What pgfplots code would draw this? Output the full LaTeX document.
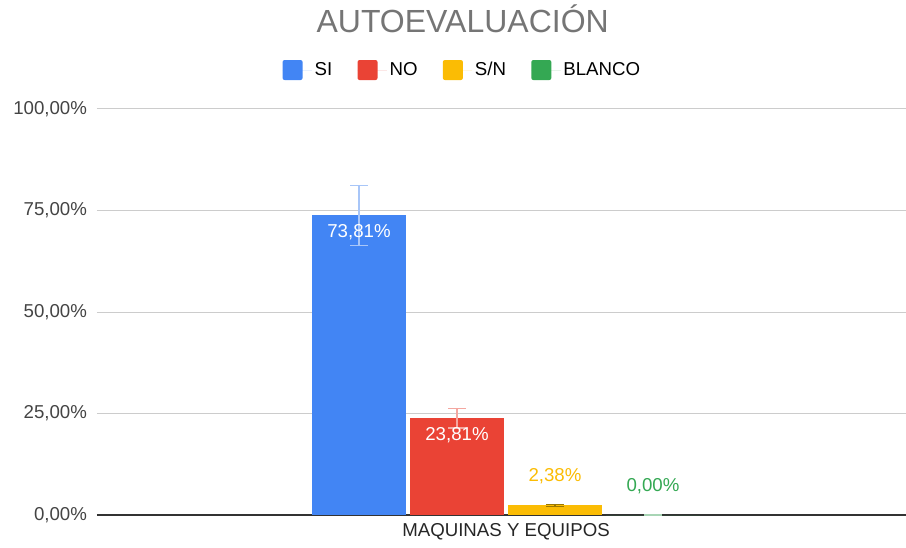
\documentclass[border=0pt]{standalone}
\usepackage{pgfplots}
\pgfplotsset{compat=1.18}
\usepackage{fontspec}
\setmainfont{Liberation Sans}
\definecolor{cSI}{HTML}{4285F4}
\definecolor{cNO}{HTML}{EA4335}
\definecolor{cSN}{HTML}{FBBC04}
\definecolor{cBL}{HTML}{34A853}
\definecolor{eSI}{HTML}{A8C6F8}
\definecolor{eNO}{HTML}{F4A7A0}
\definecolor{eSN}{HTML}{9A7800}
\definecolor{eBL}{HTML}{A8D5B5}
\definecolor{titlegray}{HTML}{757575}
\definecolor{ticktext}{HTML}{444444}
\definecolor{gridgray}{HTML}{CCCCCC}
\begin{document}
\begin{tikzpicture}
\useasboundingbox (-72.75pt,-24pt) rectangle (606.75pt,386.25pt);
\begin{axis}[
  at={(0pt,0pt)}, anchor=south west,
  scale only axis,
  width=606.75pt, height=304.5pt,
  xmin=-409, xmax=400,
  ymin=0, ymax=100,
  ybar,
  bar width=70.5pt,
  /pgf/number format/assume math mode=true,
  font=\fontsize{14}{16}\selectfont,
  ytick={0,25,50,75,100},
  yticklabels={{0,00\%},{25,00\%},{50,00\%},{75,00\%},{100,00\%}},
  xtick={0},
  xticklabels={MAQUINAS Y EQUIPOS},
  major tick length=0pt,
  ymajorgrids,
  grid style={draw=gridgray, line width=0.75pt},
  axis x line*=bottom,
  axis y line*=left,
  y axis line style={draw=none},
  x axis line style={draw=black!80, line width=1pt, -},
  yticklabel style={text=ticktext, xshift=-4pt},
  xticklabel style={text=black!85, yshift=-3pt},
  title={AUTOEVALUACIÓN},
  title style={at={(0.452,1.202)}, anchor=center, font=\fontsize{24}{27}\selectfont, text=titlegray},
  legend style={at={(0.452,1.096)}, anchor=center, draw=none, fill=none,
    legend columns=4, font=\fontsize{14}{16}\selectfont,
    /tikz/every even column/.append style={column sep=17pt},
    legend cell align=left},
  legend image code/.code={\fill[#1, rounded corners=1.5pt] (0pt,-7.5pt) rectangle (15pt,7.5pt); \path (0pt,0pt) -- (22pt,0pt);},
  nodes near coords={\pgfmathprintnumber[fixed,zerofill,precision=2,use comma]{\pgfplotspointmeta}\%},
  nodes near coords style={font=\fontsize{14}{16}\selectfont},
  error bars/y dir=both,
  error bars/y explicit,
  clip=false,
]
\addplot[fill=cSI, draw=none, bar shift=-110.25pt,
  error bars/error bar style={draw=eSI, line width=0.9pt},
  error bars/error mark options={draw=eSI, line width=0.9pt, mark size=6.75pt, rotate=90},
  nodes near coords style={text=white, anchor=center, yshift=-12.75pt}]
  coordinates {(0,73.81) +- (0,7.381)};
\addplot[fill=cNO, draw=none, bar shift=-36.75pt,
  error bars/error bar style={draw=eNO, line width=0.9pt},
  error bars/error mark options={draw=eNO, line width=0.9pt, mark size=6.75pt, rotate=90},
  nodes near coords style={text=white, anchor=center, yshift=-12.75pt}]
  coordinates {(0,23.81) +- (0,2.381)};
\addplot[fill=cSN, draw=none, bar shift=36.75pt,
  error bars/error bar style={draw=eSN, line width=0.9pt},
  error bars/error mark options={draw=eSN, line width=0.9pt, mark size=6.75pt, rotate=90},
  nodes near coords style={text=cSN, anchor=center, yshift=21.75pt}]
  coordinates {(0,2.38) +- (0,0.238)};
\addplot[fill=cBL, draw=none, bar shift=110.25pt,
  error bars/error bar style={draw=eBL, line width=0.9pt},
  error bars/error mark options={draw=eBL, line width=0.9pt, mark size=6.75pt, rotate=90},
  nodes near coords style={text=cBL, anchor=center, yshift=21.75pt}]
  coordinates {(0,0) +- (0,0)};
\legend{SI,NO,S/N,BLANCO}
\end{axis}
\end{tikzpicture}
\end{document}
